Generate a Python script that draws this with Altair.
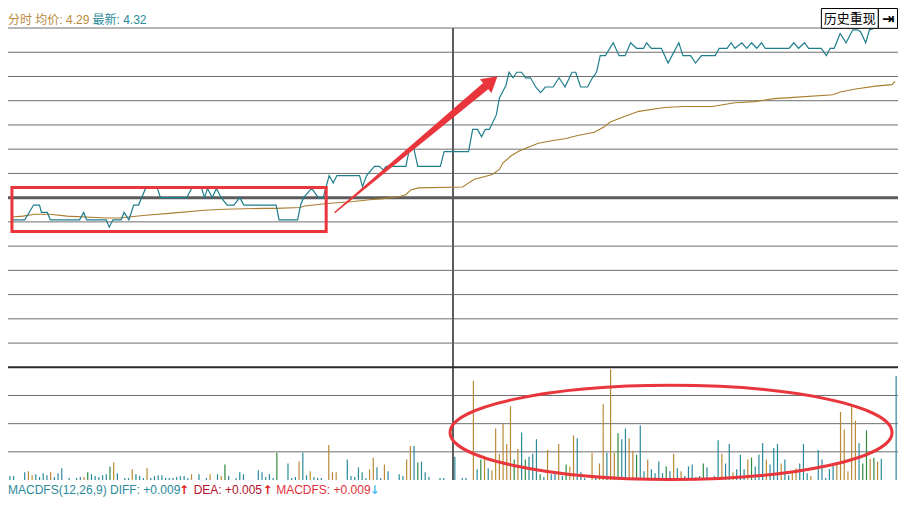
import altair as alt
import pandas as pd

# ---------------- data ----------------
# price line (minute index 0..240, price)
price_minute = [1.1, 4.5, 6.9, 8.5, 9.0, 10.6, 11.4, 19.3, 20.4, 21.2,
                26.5, 27.3, 28.3, 30.5, 31.3, 32.6, 33.9, 35.2, 37.1, 40.3,
                41.1, 48.2, 49.5, 52.2, 53.0, 53.8, 55.1, 56.2, 57.5, 59.1,
                60.9, 62.5, 63.6, 72.3, 73.1, 78.1, 78.9, 79.7, 81.9, 83.7,
                85.0, 86.6, 87.7, 88.7, 94.8, 95.6, 96.7, 98.8, 100.1, 101.2,
                102.0, 107.3, 108.3, 109.4, 110.5, 116.6, 117.6, 124.2, 125.3, 126.6,
                127.7, 128.7, 129.8, 131.7, 132.5, 134.3, 135.1, 136.2, 137.2, 138.5,
                139.6, 140.9, 142.3, 143.6, 144.9, 147.0, 148.6, 150.2, 152.1, 153.1,
                154.4, 156.3, 157.6, 158.7, 159.7, 161.1, 163.2, 164.8, 166.4, 167.9,
                169.5, 171.4, 172.2, 173.5, 176.2, 178.0, 180.9, 182.0, 184.1, 185.4,
                187.0, 190.7, 191.8, 193.9, 195.0, 196.0, 197.9, 199.2, 200.5, 201.9,
                203.2, 204.2, 210.6, 211.9, 213.2, 214.8, 215.9, 219.3, 220.7, 221.7,
                222.8, 224.4, 226.0, 227.8, 229.1, 229.9, 231.3, 232.3, 233.9]
price_value = [4.216, 4.216, 4.224, 4.224, 4.220, 4.220, 4.216, 4.216, 4.220, 4.216,
               4.216, 4.212, 4.216, 4.216, 4.220, 4.216, 4.224, 4.224, 4.233, 4.233,
               4.228, 4.228, 4.233, 4.233, 4.228, 4.233, 4.228, 4.233, 4.228, 4.224,
               4.224, 4.228, 4.224, 4.224, 4.216, 4.216, 4.224, 4.228, 4.233, 4.228,
               4.228, 4.240, 4.236, 4.240, 4.240, 4.234, 4.240, 4.245, 4.245, 4.243,
               4.245, 4.245, 4.255, 4.255, 4.245, 4.245, 4.253, 4.253, 4.265, 4.265,
               4.261, 4.265, 4.265, 4.273, 4.282, 4.289, 4.296, 4.293, 4.296, 4.296,
               4.293, 4.293, 4.288, 4.285, 4.288, 4.288, 4.293, 4.288, 4.296, 4.296,
               4.288, 4.288, 4.293, 4.296, 4.305, 4.305, 4.312, 4.305, 4.305, 4.312,
               4.309, 4.309, 4.312, 4.309, 4.309, 4.301, 4.312, 4.305, 4.305, 4.301,
               4.305, 4.305, 4.309, 4.309, 4.312, 4.309, 4.312, 4.309, 4.312, 4.309,
               4.312, 4.309, 4.309, 4.312, 4.309, 4.312, 4.309, 4.309, 4.305, 4.309,
               4.309, 4.317, 4.312, 4.319, 4.319, 4.318, 4.312, 4.319, 4.320]

# average price line
avg_minute = [1.1, 4.0, 7.2, 11.4, 15.9, 26.5, 29.9, 37.1, 44.2, 53.0,
              58.3, 68.9, 72.3, 78.7, 80.0, 86.1, 93.2, 97.5, 101.2, 105.4,
              107.3, 108.6, 110.7, 122.6, 124.5, 125.8, 130.6, 132.5, 133.5, 135.6,
              137.7, 139.6, 143.0, 147.0, 150.5, 153.6, 158.1, 160.8, 162.4, 166.4,
              170.1, 177.0, 182.3, 189.9, 196.0, 201.3, 206.6, 211.9, 222.5, 224.4,
              228.6, 233.9, 238.4, 239.2]
avg_value = [4.2175, 4.218, 4.219, 4.219, 4.218, 4.217, 4.217, 4.2185, 4.2196, 4.2212,
             4.2217, 4.2222, 4.2222, 4.2227, 4.2235, 4.2248, 4.2259, 4.2269, 4.2275, 4.2285,
             4.2296, 4.2322, 4.2333, 4.2338, 4.2364, 4.238, 4.2406, 4.2433, 4.2469, 4.2506,
             4.2532, 4.2548, 4.2575, 4.259, 4.2601, 4.2617, 4.2635, 4.2664, 4.269, 4.2722,
             4.2748, 4.2769, 4.2774, 4.2774, 4.2795, 4.2801, 4.2817, 4.2824, 4.2838, 4.2853,
             4.2869, 4.2885, 4.2893, 4.2911]

# volume bars: minute, lots, direction (u = up, d = down, f = flat)
vol_minute = [0, 1, 4, 5, 6, 7, 8, 9, 10, 11, 12, 13, 14, 16, 18, 19, 20, 21, 22, 23,
              24, 25, 26, 27, 28, 29, 31, 32, 33, 34, 35, 36, 37, 38, 39, 40, 41, 42, 43, 44,
              45, 46, 47, 48, 49, 51, 53, 54, 56, 57, 58, 59, 61, 62, 63, 67, 68, 69, 70, 71,
              72, 75, 76, 77, 78, 79, 80, 81, 82, 83, 84, 86, 87, 88, 91, 92, 93, 94, 95, 96,
              97, 98, 99, 100, 101, 102, 105, 106, 107, 108, 109, 110, 111, 112, 113, 116, 117, 120, 122, 123,
              125, 126, 127, 128, 129, 130, 131, 132, 133, 134, 135, 136, 137, 138, 139, 140, 141, 142, 143, 144,
              145, 146, 147, 148, 149, 150, 151, 152, 153, 154, 155, 157, 158, 159, 160, 161, 162, 163, 164, 165,
              166, 167, 168, 169, 170, 171, 172, 173, 174, 175, 176, 177, 178, 179, 180, 181, 182, 183, 184, 185,
              186, 187, 188, 189, 190, 191, 192, 193, 194, 195, 196, 197, 198, 199, 200, 201, 202, 203, 204, 205,
              206, 207, 208, 209, 210, 211, 212, 213, 214, 215, 216, 218, 219, 220, 221, 222, 223, 224, 225, 226,
              227, 228, 229, 230, 231, 232, 233, 234, 235, 239]
vol_lots = [40, 40, 80, 90, 50, 60, 30, 70, 50, 80, 30, 70, 120, 20, 20, 30, 30, 80, 60, 40,
            30, 50, 60, 140, 180, 70, 20, 20, 110, 60, 40, 20, 120, 20, 40, 50, 50, 20, 20, 20,
            30, 40, 40, 20, 60, 60, 20, 60, 60, 40, 160, 40, 20, 80, 60, 100, 80, 30, 60, 20,
            280, 170, 20, 30, 190, 280, 50, 90, 30, 20, 20, 360, 80, 80, 210, 40, 30, 130, 80, 20,
            110, 230, 130, 20, 160, 90, 60, 40, 210, 350, 350, 180, 190, 80, 30, 20, 20, 240, 20, 20,
            1020, 110, 210, 230, 120, 100, 530, 270, 580, 370, 760, 210, 320, 490, 210, 240, 270, 420, 60, 30,
            310, 60, 90, 370, 40, 160, 140, 460, 430, 80, 20, 280, 20, 170, 780, 280, 1140, 280, 480, 420,
            530, 430, 300, 260, 560, 90, 210, 110, 70, 190, 70, 140, 90, 270, 120, 90, 40, 140, 160, 30,
            40, 170, 130, 20, 40, 410, 270, 170, 370, 80, 110, 260, 110, 210, 230, 140, 260, 380, 210, 160,
            330, 370, 170, 210, 50, 90, 120, 170, 370, 70, 40, 310, 210, 20, 110, 170, 180, 700, 520, 90,
            770, 610, 380, 170, 510, 220, 230, 190, 220, 1070]
vol_dir = ["d", "d", "d", "u", "u", "d", "d", "d", "d", "u", "d", "d", "d", "d", "d", "d", "u", "f", "d", "d",
           "d", "d", "d", "f", "u", "d", "d", "d", "u", "d", "d", "d", "u", "d", "d", "d", "d", "d", "d", "d",
           "d", "d", "d", "d", "u", "d", "d", "u", "d", "u", "f", "d", "d", "d", "d", "d", "d", "d", "d", "d",
           "f", "d", "d", "d", "u", "d", "d", "u", "d", "d", "d", "u", "u", "u", "d", "d", "d", "d", "d", "d",
           "u", "u", "d", "d", "u", "d", "d", "d", "u", "u", "d", "f", "d", "d", "d", "d", "d", "d", "d", "d",
           "u", "d", "f", "u", "d", "u", "u", "u", "u", "u", "u", "f", "u", "d", "f", "d", "d", "d", "f", "d",
           "u", "d", "d", "u", "d", "f", "u", "u", "d", "d", "d", "u", "d", "u", "u", "d", "u", "u", "f", "d",
           "d", "u", "u", "f", "d", "d", "u", "d", "d", "d", "d", "f", "d", "u", "d", "u", "d", "d", "d", "d",
           "d", "f", "d", "d", "d", "d", "u", "d", "d", "u", "d", "d", "d", "u", "f", "d", "d", "d", "u", "d",
           "d", "d", "u", "d", "d", "u", "u", "d", "d", "d", "u", "d", "d", "d", "d", "d", "u", "u", "u", "u",
           "u", "u", "d", "f", "f", "u", "f", "u", "d", "d"]

PREV_CLOSE = 4.228
P_TOP, P_BOT = 4.320, 4.136
price_grid = [P_TOP - k * (P_TOP - P_BOT) / 14 for k in range(14) if k != 7]
vol_grid = [290, 580, 870]
V_PANEL_TOP = 1160

# annotation anchors (in data units)
box_m1, box_m2, box_p1, box_p2 = [1.06], [85.8], [4.2335], [4.2096]
arrow_m, arrow_p, arrow_w = [88.2, 128.8], [4.2201, 4.2885], [0, 1]
head_m, head_p = [130.4], [4.2912]
ell_m, ell_v = [178.8], [490]

# ---------------- layout ----------------
W, H = 890, 452
SX, SY = 890 / 906, 492 / 508
PRICE_H = 371 * SY - 20
P_DOMAIN = [P_TOP - (P_TOP - P_BOT) * H / PRICE_H, P_TOP]
V_DOMAIN = [0, V_PANEL_TOP * H / (H - PRICE_H)]

TEAL = "#1f7e8d"
GOLD = "#a97c2e"
GRID = "#6e6e6e"
RED = "#e8363c"
FONT = "Liberation Sans, Noto Sans CJK SC"

xs = alt.Scale(domain=[0, 240], nice=False, zero=False)
ps = alt.Scale(domain=P_DOMAIN, nice=False, zero=False)
vs = alt.Scale(domain=V_DOMAIN, nice=False, zero=False)


def X(f="m"):
    return alt.X(f"{f}:Q", scale=xs, axis=None)


def YP(f="p"):
    return alt.Y(f"{f}:Q", scale=ps, axis=None)


def YV(f="v"):
    return alt.Y(f"{f}:Q", scale=vs, axis=None)


def rx(v):
    return v * SX


def ry(v):
    return v * SY - 20


def label(text, x, y, color, size=12, weight="normal", align="left", font=FONT):
    return alt.Chart(pd.DataFrame({"t": [text]})).mark_text(
        align=align, baseline="alphabetic", color=color, fontSize=size,
        fontWeight=weight, font=font
    ).encode(x=alt.value(x), y=alt.value(y), text="t:N")


price_df = pd.DataFrame({"m": price_minute, "p": price_value})
avg_df = pd.DataFrame({"m": avg_minute, "p": avg_value})
vol_df = pd.DataFrame({"m": vol_minute, "v": vol_lots, "c": vol_dir})

grid_thin = alt.Chart(pd.DataFrame({"p": price_grid})).mark_rule(
    color=GRID, strokeWidth=1).encode(y=YP())
grid_mid = alt.Chart(pd.DataFrame({"p": [PREV_CLOSE]})).mark_rule(
    color="#5c5c5c", strokeWidth=3).encode(y=YP())
grid_bot = alt.Chart(pd.DataFrame({"p": [P_BOT]})).mark_rule(
    color="#2a2a2a", strokeWidth=2).encode(y=YP())
vgrid = alt.Chart(pd.DataFrame({"v": vol_grid})).mark_rule(
    color=GRID, strokeWidth=1).encode(y=YV())
divider = alt.Chart(pd.DataFrame({"m": [120]})).mark_rule(
    color="#5c5c5c", strokeWidth=2).encode(x=X())

bars = alt.Chart(vol_df).transform_calculate(
    mc="datum.m + 0.5", z="0"
).mark_rule(strokeWidth=1.2).encode(
    x=X("mc"), y=YV("v"), y2="z:Q",
    color=alt.Color("c:N", scale=alt.Scale(domain=["u", "d", "f"],
                                           range=["#b98a36", "#2a8a9c", "#2f8a40"]),
                    legend=None)
)

avg_line = alt.Chart(avg_df).mark_line(color=GOLD, strokeWidth=1.1).encode(x=X(), y=YP())
price_line = alt.Chart(price_df).mark_line(color=TEAL, strokeWidth=1.2, clip=True).encode(x=X(), y=YP())

box = alt.Chart(pd.DataFrame({"m1": box_m1, "m2": box_m2, "p1": box_p1, "p2": box_p2})).mark_rect(
    fillOpacity=0, stroke=RED, strokeWidth=3
).encode(x=X("m1"), x2="m2:Q", y=YP("p1"), y2="p2:Q")

trail = alt.Chart(pd.DataFrame({"m": arrow_m, "p": arrow_p, "w": arrow_w})).mark_trail(
    color=RED
).encode(x=X(), y=YP(), size=alt.Size("w:Q", scale=alt.Scale(domain=[0, 1], range=[1.5, 8]), legend=None))

head = alt.Chart(pd.DataFrame({"m": head_m, "p": head_p})).mark_point(
    shape="M0,-0.85L1,0.85L-1,0.85Z", filled=True, color=RED, size=324, angle=50,
    opacity=1, strokeWidth=0
).encode(x=X(), y=YP())

ELL = ("M-1,0 C-1,-0.1176 -0.5523,-0.213 0,-0.213 C0.5523,-0.213 1,-0.1176 1,0 "
       "C1,0.1176 0.5523,0.213 0,0.213 C-0.5523,0.213 -1,0.1176 -1,0 Z")
ellipse = alt.Chart(pd.DataFrame({"m": ell_m, "v": ell_v})).mark_point(
    shape=ELL, filled=False, color=RED, strokeWidth=3, size=442 * 442, opacity=1
).encode(x=X(), y=YV())

# header / footer / button
head1 = label("分时 均价: 4.29", 0, ry(16.5), "#b88a3a")
head2 = label("最新: 4.32", rx(86), ry(16.5), "#2a8a9a")

btn = alt.Chart(pd.DataFrame({"a": [0]})).mark_rect(fill="white", stroke="#000", strokeWidth=1).encode(
    x=alt.value(rx(828)), x2=alt.value(rx(886)), y=alt.value(-19.5), y2=alt.value(ry(21)))
btn2 = alt.Chart(pd.DataFrame({"a": [0]})).mark_rect(fill="white", stroke="#000", strokeWidth=1).encode(
    x=alt.value(rx(886)), x2=alt.value(889.5), y=alt.value(-19.5), y2=alt.value(ry(21)))
btn_t = label("历史重现", rx(857), ry(16), "#000000", size=13, align="center")
btn_i = label("⇥", rx(896), ry(16.5), "#000000", size=15, weight="bold", align="center",
              font="DejaVu Sans")

fy = ry(501.7)
f1 = label("MACDFS(12,26,9) DIFF: +0.009", 0, fy, "#2a8a9a")
f2 = label("↑", rx(174), fy, "#e02020", weight="bold", font="DejaVu Sans")
f3 = label("DEA: +0.005", rx(189), fy, "#b0102a")
f4 = label("↑", rx(259), fy, "#e02020", weight="bold", font="DejaVu Sans")
f5 = label("MACDFS: +0.009", rx(273), fy, "#e0303a")
f6 = label("↓", rx(368), fy, "#4cc0f0", weight="bold", font="DejaVu Sans")

chart = alt.layer(
    grid_thin, grid_mid, vgrid, divider, bars, grid_bot,
    avg_line, price_line, box, trail, head, ellipse,
    head1, head2, btn, btn2, btn_t, btn_i, f1, f2, f3, f4, f5, f6
).resolve_scale(
    y="independent", size="independent", color="independent"
).properties(
    width=W, height=H,
    padding={"left": 0, "top": 20, "right": 0, "bottom": 20},
    autosize=alt.AutoSizeParams(type="none"),
    background="white"
).configure_view(strokeWidth=0)

chart.save("out.html", embed_options={"renderer": "svg", "actions": False})
